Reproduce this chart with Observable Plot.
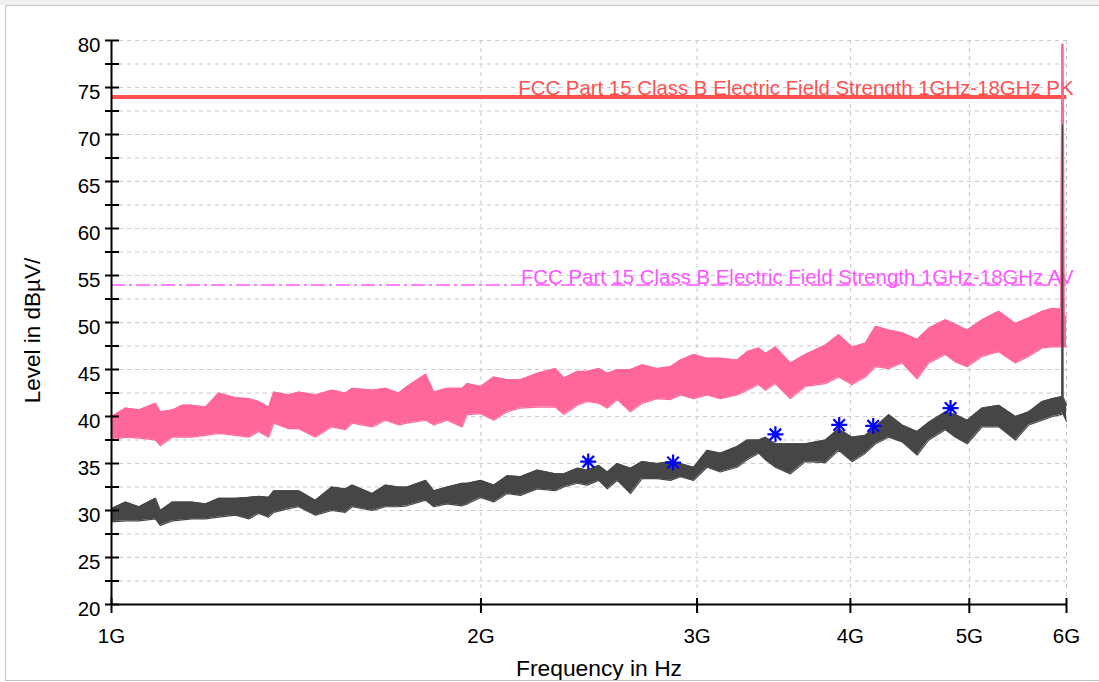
<!DOCTYPE html>
<html>
<head>
<meta charset="utf-8">
<script src="https://cdn.jsdelivr.net/npm/d3@7"></script>
<script src="https://cdn.jsdelivr.net/npm/@observablehq/plot@0.6"></script>
<style>
html, body { margin: 0; padding: 0; background: #fff; }
#wrap { position: relative; width: 1099px; height: 682px; overflow: hidden; font-family: "Liberation Sans", Arial, sans-serif; }
#topband { position: absolute; left: 0; top: 0; width: 1099px; height: 5px; background: #f0f0f0; }
#chart { position: absolute; left: 0; top: 0; }
#frame { position: absolute; left: 5px; top: 5px; width: 1110px; height: 674px; border: 1px solid #c4c4c4; pointer-events: none; }
</style>
</head>
<body>
<div id="wrap"><div id="topband"></div><div id="chart"></div><div id="frame"></div></div>
<script>
// ---- data ----
const freqGHz = [1.000,1.027,1.053,1.086,1.096,1.121,1.142,1.163,1.193,1.223,1.262,1.294,1.318,1.343,1.356,1.394,1.421,1.466,1.512,1.551,1.571,1.631,1.672,1.714,1.741,1.803,1.831,
  1.877,1.931,1.949,1.999,2.049,2.101,2.154,2.223,2.300,2.337,2.396,2.441,2.495,2.535,2.583,2.648,2.706,2.783,2.854,2.908,2.981,3.057,3.134,3.234,3.296,3.368,
  3.411,3.475,3.574,3.676,3.817,3.913,4.013,4.114,4.193,4.299,4.408,4.534,4.634,4.781,4.872,4.980,5.122,5.284,5.452,5.590,5.733,5.842,
  5.935,5.948,5.955,5.962,5.975,6.000];
const pkHi = [40.0,40.9,40.7,41.4,40.5,40.7,41.2,41.2,41.0,42.5,42.0,41.9,41.6,41.0,42.6,42.3,42.6,42.3,42.8,42.5,43.0,42.8,43.0,42.5,43.2,44.5,42.6,
  43.0,43.0,43.5,43.2,44.2,43.9,43.9,44.6,45.1,44.1,44.8,44.8,45.1,44.6,45.0,45.0,45.5,45.1,45.3,46.0,46.6,46.2,46.2,46.0,46.9,47.3,
  46.7,47.4,45.7,46.6,47.6,48.7,47.4,47.8,49.6,49.2,48.9,48.2,49.4,50.3,49.8,49.2,50.3,51.2,49.9,50.5,51.2,51.5,
  51.4,79.6,79.6,79.6,50.8,50.5];
const pkLo = [37.5,37.8,37.7,37.5,36.9,37.8,37.8,37.8,38.0,38.2,38.0,37.8,38.4,37.8,39.3,38.7,38.7,37.8,38.9,38.6,39.3,38.9,39.6,39.1,39.3,39.6,39.1,
  39.6,38.9,40.2,40.3,39.6,40.5,40.9,41.0,41.0,40.2,41.2,41.6,41.4,40.9,41.8,40.5,41.4,41.9,41.8,42.3,41.9,42.3,41.9,42.3,42.8,43.4,
  42.8,43.5,41.9,43.2,43.5,44.2,43.4,44.2,45.3,45.1,45.7,44.0,45.7,46.6,45.8,45.3,46.4,46.9,45.7,46.4,47.3,47.4,
  47.4,47.6,47.6,47.6,47.4,47.4];
const avHi = [30.2,30.9,30.4,31.3,30.0,30.9,30.9,30.9,30.7,31.3,31.3,31.4,31.5,31.4,32.1,32.1,32.1,31.1,32.5,32.3,32.7,31.8,32.7,32.5,32.5,33.2,32.1,
  32.5,32.9,32.9,33.2,32.7,33.7,33.6,34.3,33.9,33.9,34.5,34.3,34.8,34.1,35.0,34.5,35.2,35.0,35.2,35.0,34.6,36.4,36.1,36.8,37.5,37.5,
  37.8,37.1,37.1,37.1,37.5,38.7,37.8,38.0,38.9,40.2,39.1,38.4,39.4,40.5,40.2,39.6,40.9,41.2,40.0,40.5,41.6,41.9,
  42.1,42.0,71.0,42.0,41.8,41.2];
const avLo = [28.8,28.9,28.9,29.1,28.4,28.9,29.0,29.1,29.1,29.3,29.5,29.1,29.7,29.3,29.8,30.2,30.4,29.5,30.0,29.8,30.4,30.0,30.4,30.4,30.5,31.1,30.4,
  30.7,30.5,30.7,31.4,30.9,31.8,31.6,32.3,32.1,32.5,32.9,32.7,33.2,32.3,33.2,31.8,33.4,33.4,33.2,33.6,33.2,34.6,34.1,34.6,35.4,36.1,
  35.4,34.6,33.9,35.2,35.1,36.4,35.2,36.1,37.1,37.8,37.3,35.9,37.5,38.6,37.8,37.1,38.9,38.9,37.5,39.1,39.6,40.0,
  40.2,40.2,40.5,40.3,40.0,39.5];
const markerFreq = [2.446, 2.868, 3.475, 3.917, 4.175, 4.827];
const markerLevel = [35.2, 35.1, 38.1, 39.1, 39.0, 40.9];
const limitNames = ["FCC Part 15 Class B Electric Field Strength 1GHz-18GHz PK",
                    "FCC Part 15 Class B Electric Field Strength 1GHz-18GHz AV"];
const limitLevels = [74, 54];
const xTickValues = [1, 2, 3, 4, 5, 6];
const xTickLabels = ["1G", "2G", "3G", "4G", "5G", "6G"];
const yLabelValues = [20, 25, 30, 35, 40, 45, 50, 55, 60, 65, 70, 75, 80];
const yMinorValues = [22.5, 27.5, 32.5, 37.5, 42.5, 47.5, 52.5, 57.5, 62.5, 67.5, 72.5, 77.5];
const xTitle = "Frequency in Hz";
const yTitle = "Level in dBµV/";

// ---- drawing ----
const idx = d3.range(freqGHz.length);
const midx = d3.range(markerFreq.length);
const yTickAll = yLabelValues.concat(yMinorValues);
const FONT = "Liberation Sans, Arial, sans-serif";

const asterisk8 = {
  draw(ctx) {
    const r = 8, q = r * 0.72;
    ctx.moveTo(0, -r); ctx.lineTo(0, r);
    ctx.moveTo(-r, 0); ctx.lineTo(r, 0);
    ctx.moveTo(-q, -q); ctx.lineTo(q, q);
    ctx.moveTo(-q, q); ctx.lineTo(q, -q);
  }
};

const chart = Plot.plot({
  width: 1099, height: 682,
  marginLeft: 111, marginRight: 33, marginTop: 40, marginBottom: 78,
  x: {type: "log", domain: [1, 6], axis: null},
  y: {domain: [20, 80], axis: null},
  style: {fontFamily: FONT, fontSize: "20px", background: "transparent", overflow: "visible"},
  marks: [
    // grid
    Plot.ruleY(yTickAll.filter(v => v > 20), {y: d => d, stroke: "#c8c8c8", strokeWidth: 1, strokeDasharray: "4,4"}),
    Plot.ruleX(xTickValues.filter(v => v > 1), {x: d => d, y1: 20, y2: 80, stroke: "#c8c8c8", strokeWidth: 1, strokeDasharray: "4,4"}),
    // limit lines
    Plot.ruleY([limitLevels[0]], {y: d => d, x1: 1, x2: 6, stroke: "#ff5050", strokeWidth: 4}),
    Plot.ruleY([limitLevels[1]], {y: d => d, x1: 1, x2: 6, stroke: "#ff55ff", strokeWidth: 1.5, strokeDasharray: "14,4,3,4"}),
    Plot.text([0], {x: 6, y: limitLevels[0], text: () => limitNames[0], textAnchor: "end", lineAnchor: "middle", dx: 7, dy: -8, fill: "#ff5050", fontSize: 20.4}),
    Plot.text([1], {x: 6, y: limitLevels[1], text: () => limitNames[1], textAnchor: "end", lineAnchor: "middle", dx: 7, dy: -7, fill: "#ff55ff", fontSize: 20.4}),
    // peak trace
    Plot.areaY(idx, {x: i => freqGHz[i], y1: i => pkLo[i], y2: i => pkHi[i], fill: "#ff6699", curve: "linear"}),
    Plot.line(idx, {x: i => freqGHz[i], y: i => pkHi[i], stroke: "#ff6699", strokeWidth: 1.2}),
    Plot.line(idx, {x: i => freqGHz[i], y: i => pkLo[i], stroke: "#ff6699", strokeWidth: 1.2}),
    // average trace
    Plot.areaY(idx, {x: i => freqGHz[i], y1: i => avLo[i], y2: i => avHi[i], fill: "#464646", curve: "linear"}),
    Plot.line(idx, {x: i => freqGHz[i], y: i => avHi[i], stroke: "#464646", strokeWidth: 1.2}),
    Plot.line(idx, {x: i => freqGHz[i], y: i => avLo[i], stroke: "#464646", strokeWidth: 1.2}),
    // axes
    Plot.ruleX([1], {x: d => d, y1: 20, y2: 80, stroke: "#000", strokeWidth: 2}),
    Plot.ruleY([20], {y: d => d, x1: 1, x2: 6, stroke: "#000", strokeWidth: 2}),
    Plot.ruleY(yTickAll, {y: d => d, x1: 1, x2: 1, insetLeft: -6, insetRight: -8, stroke: "#000", strokeWidth: 2}),
    Plot.ruleX(xTickValues, {x: d => d, y1: 20, y2: 20, insetTop: -6, insetBottom: -9, stroke: "#000", strokeWidth: 2}),
    // tick labels
    Plot.text(yLabelValues, {y: d => d, text: d => String(d), frameAnchor: "left", textAnchor: "end", lineAnchor: "middle", dx: -11, dy: 5, fill: "#000", fontSize: 20.5}),
    Plot.text(xTickValues, {x: d => d, text: (d, i) => xTickLabels[i], frameAnchor: "bottom", textAnchor: "middle", lineAnchor: "middle", dy: 32, fill: "#000", fontSize: 20.5}),
    // titles
    Plot.text([xTitle], {frameAnchor: "bottom", text: d => d, textAnchor: "middle", lineAnchor: "middle", dx: 10, dy: 64, fill: "#000", fontSize: 22.8}),
    Plot.text([yTitle], {frameAnchor: "left", text: d => d, textAnchor: "middle", lineAnchor: "middle", rotate: -90, dx: -79, dy: 8, fill: "#000", fontSize: 22.5}),
    // markers
    Plot.dot(midx, {x: i => markerFreq[i], y: i => markerLevel[i], symbol: asterisk8, stroke: "#0000ff", strokeWidth: 2.2, fill: "none"})
  ]
});
document.getElementById("chart").appendChild(chart);
</script>
</body>
</html>
